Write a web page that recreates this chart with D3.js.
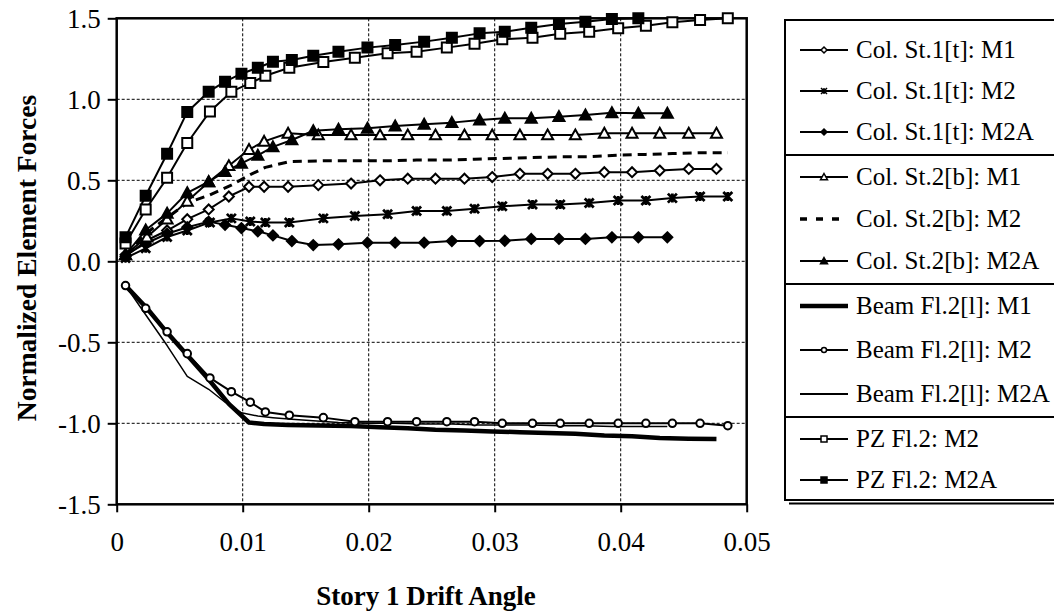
<!DOCTYPE html>
<html><head><meta charset="utf-8">
<script src="https://cdn.jsdelivr.net/npm/d3@7"></script>
<style>body{margin:0;background:#fff}svg{display:block}svg text{font-family:"Liberation Serif","Times New Roman",serif !important;fill:#000}</style>
</head><body>
<svg id="c" width="1054" height="614"></svg>
<script>
// ---------- data ----------
const xTicks = [0, 0.01, 0.02, 0.03, 0.04, 0.05];
const xTickLabels = ["0", "0.01", "0.02", "0.03", "0.04", "0.05"];
const yTicks = [-1.5, -1.0, -0.5, 0.0, 0.5, 1.0, 1.5];
const yTickLabels = ["-1.5", "-1.0", "-0.5", "0.0", "0.5", "1.0", "1.5"];

const driftM1 = [0.0007,0.0024,0.0040,0.0056,0.0073,0.0089,0.0105,0.0117,0.0136,0.0160,0.0186,0.0209,0.0231,0.0253,0.0276,0.0298,0.0320,0.0342,0.0364,0.0387,0.0409,0.0431,0.0454,0.0476];
const driftM2 = [0.0007,0.0023,0.0040,0.0056,0.0074,0.0091,0.0106,0.0118,0.0137,0.0164,0.0189,0.0215,0.0238,0.0262,0.0284,0.0306,0.0330,0.0352,0.0375,0.0398,0.0420,0.0441,0.0463,0.0485];
const driftM2A = [0.0007,0.0023,0.0040,0.0056,0.0073,0.0086,0.0099,0.0112,0.0124,0.0139,0.0156,0.0176,0.0199,0.0221,0.0244,0.0266,0.0288,0.0308,0.0329,0.0351,0.0372,0.0393,0.0414,0.0437];

const colSt1M1  = [0.03,0.13,0.19,0.26,0.32,0.40,0.46,0.46,0.46,0.47,0.48,0.50,0.51,0.51,0.51,0.52,0.54,0.54,0.54,0.55,0.55,0.56,0.57,0.57];
const colSt1M2  = [0.02,0.08,0.15,0.19,0.24,0.265,0.245,0.24,0.24,0.265,0.28,0.29,0.31,0.31,0.325,0.34,0.35,0.35,0.36,0.375,0.375,0.39,0.40,0.40];
const colSt1M2A = [0.04,0.11,0.17,0.21,0.245,0.225,0.205,0.185,0.16,0.125,0.10,0.105,0.115,0.115,0.115,0.125,0.125,0.127,0.138,0.138,0.138,0.148,0.148,0.148];
const colSt2M1  = [0.04,0.15,0.26,0.37,0.49,0.59,0.69,0.74,0.79,0.78,0.78,0.78,0.78,0.78,0.78,0.78,0.78,0.78,0.78,0.79,0.79,0.79,0.79,0.79];
const colSt2M2  = [0.04,0.17,0.27,0.36,0.41,0.47,0.535,0.58,0.615,0.62,0.62,0.62,0.625,0.625,0.63,0.635,0.64,0.645,0.645,0.655,0.66,0.665,0.67,0.67];
const colSt2M2A = [0.04,0.193,0.296,0.423,0.491,0.553,0.605,0.654,0.706,0.749,0.806,0.815,0.821,0.835,0.846,0.856,0.872,0.883,0.883,0.893,0.903,0.917,0.914,0.914];
const beamM1    = [-0.15,-0.29,-0.44,-0.58,-0.73,-0.88,-0.995,-1.005,-1.01,-1.013,-1.017,-1.025,-1.03,-1.04,-1.045,-1.05,-1.055,-1.06,-1.065,-1.075,-1.08,-1.09,-1.095,-1.097];
const beamM2    = [-0.15,-0.29,-0.435,-0.57,-0.72,-0.805,-0.87,-0.93,-0.95,-0.965,-0.99,-0.99,-0.99,-0.99,-0.99,-1.0,-1.0,-1.0,-1.0,-1.0,-1.0,-1.0,-1.0,-1.015];
const beamM2A   = [-0.15,-0.33,-0.52,-0.71,-0.79,-0.87,-0.935,-0.955,-0.965,-0.975,-0.985,-0.995,-1.0,-1.0,-1.005,-1.005,-1.01,-1.01,-1.01,-1.015,-1.015,-1.02,-1.02,-1.02];
const pzM2      = [0.11,0.32,0.515,0.73,0.925,1.047,1.10,1.145,1.195,1.23,1.257,1.284,1.294,1.319,1.343,1.37,1.38,1.405,1.417,1.438,1.454,1.475,1.49,1.50];
const pzM2A     = [0.148,0.405,0.664,0.922,1.047,1.109,1.158,1.195,1.232,1.243,1.269,1.294,1.319,1.335,1.356,1.38,1.407,1.417,1.442,1.465,1.479,1.496,1.50];

const seriesNames = ["Col. St.1[t]: M1","Col. St.1[t]: M2","Col. St.1[t]: M2A","Col. St.2[b]: M1","Col. St.2[b]: M2","Col. St.2[b]: M2A","Beam Fl.2[l]: M1","Beam Fl.2[l]: M2","Beam Fl.2[l]: M2A","PZ Fl.2: M2","PZ Fl.2: M2A"];
const seriesX = [driftM1, driftM2, driftM2A, driftM1, driftM2, driftM2A, driftM1, driftM2, driftM2A, driftM2, driftM2A];
const seriesY = [colSt1M1, colSt1M2, colSt1M2A, colSt2M1, colSt2M2, colSt2M2A, beamM1, beamM2, beamM2A, pzM2, pzM2A];
const seriesMarker = ["diamond","star","diamond","triangle","none","triangle","none","circle","none","square","square"];
const seriesFilled = [false, true, true, false, false, true, false, false, false, false, true];

// ---------- layout ----------
const FONT = "'Liberation Serif', 'Times New Roman', serif";
const L = 116.7, R = 746.7, T = 18.3, B = 504.3;
const x = d3.scaleLinear().domain([0, 0.05]).range([L, R]);
const y = d3.scaleLinear().domain([-1.5, 1.5]).range([B, T]);
const svg = d3.select("#c");

// grid
const g = svg.append("g");
g.selectAll("line.vg").data(xTicks.slice(1, -1)).join("line")
  .attr("x1", d => x(d)).attr("x2", d => x(d)).attr("y1", T).attr("y2", B)
  .attr("stroke", "#000").attr("stroke-width", 1).attr("stroke-dasharray", "3,2");
g.selectAll("line.hg").data(yTicks.slice(1, -1)).join("line")
  .attr("x1", L).attr("x2", R).attr("y1", d => y(d)).attr("y2", d => y(d))
  .attr("stroke", "#000").attr("stroke-width", 1).attr("stroke-dasharray", "3,2");

// axes
const xAxis = d3.axisBottom(x).tickValues(xTicks).tickFormat((d, i) => xTickLabels[i]).tickSize(8).tickPadding(20);
const yAxis = d3.axisLeft(y).tickValues(yTicks).tickFormat((d, i) => yTickLabels[i]).tickSize(9).tickPadding(7);
const gx = svg.append("g").attr("transform", `translate(0,${B})`).call(xAxis);
const gy = svg.append("g").attr("transform", `translate(${L},0)`).call(yAxis);
[gx, gy].forEach(a => {
  a.attr("font-family", FONT).attr("font-size", 27);
  a.select(".domain").remove();
  a.selectAll(".tick line").attr("stroke", "#000").attr("stroke-width", 2);
  a.selectAll(".tick text").style("font-family", FONT).style("font-size", "27px").attr("fill", "#000");
});
gy.selectAll(".tick text").attr("dy", "0.34em");

// frame
svg.append("rect").attr("x", L).attr("y", T).attr("width", R - L).attr("height", B - T)
  .attr("fill", "none").attr("stroke", "#000").attr("stroke-width", 2.5);

// markers
function markerPath(type, s) {
  const h = s / 2;
  if (type === "diamond") return `M0,${-h}L${h},0L0,${h}L${-h},0Z`;
  if (type === "square") return `M${-h},${-h}H${h}V${h}H${-h}Z`;
  if (type === "triangle") return `M0,${-h}L${h},${h * 0.8}L${-h},${h * 0.8}Z`;
  if (type === "circle") return d3.symbol(d3.symbolCircle, s * s * 0.55)();
  if (type === "star") return `M${-h},${-h}L${h},${h}M${-h},${h}L${h},${-h}M0,${-h}V${h}`;
  return "";
}

const line = d3.line().x(d => x(d[0])).y(d => y(d[1]));
const plot = svg.append("g");
seriesNames.forEach((name, i) => {
  const pts = seriesX[i].slice(0, seriesY[i].length).map((d, k) => [d, seriesY[i][k]]);
  const p = plot.append("path").datum(pts).attr("d", line).attr("fill", "none").attr("stroke", "#000")
    .attr("stroke-linejoin", "round");
  if (i === 4) p.attr("stroke-width", 3).attr("stroke-dasharray", "9,6");
  else if (i === 6) p.attr("stroke-width", 4.5);
  else if (i === 8) p.attr("stroke-width", 1.5);
  else p.attr("stroke-width", 2);
});
seriesNames.forEach((name, i) => {
  const type = seriesMarker[i];
  if (type === "none") return;
  const pts = seriesX[i].slice(0, seriesY[i].length).map((d, k) => [d, seriesY[i][k]]);
  const size = type === "triangle" ? 11 : (type === "circle" ? 9 : (type === "star" ? 9 : 10));
  plot.append("g").selectAll("path").data(pts).join("path")
    .attr("transform", d => `translate(${x(d[0])},${y(d[1])})`)
    .attr("d", markerPath(type, size))
    .attr("fill", seriesFilled[i] ? "#000" : "#fff")
    .attr("stroke", "#000").attr("stroke-width", type === "star" ? 2.8 : 2);
});

// axis titles
svg.append("text").attr("x", 426).attr("y", 605).attr("text-anchor", "middle")
  .style("font-family", FONT).style("font-size", "27px").attr("font-weight", "bold").text("Story 1 Drift Angle");
svg.append("text").attr("transform", "translate(36,258) rotate(-90)").attr("text-anchor", "middle")
  .style("font-family", FONT).style("font-size", "27.5px").attr("font-weight", "bold").text("Normalized Element Forces");

// legend
const LX = 785, LT = 20, LB = 500;
const lg = svg.append("g");
lg.append("line").attr("x1", LX + 4).attr("x2", 1060).attr("y1", LB + 3.5).attr("y2", LB + 3.5).attr("stroke", "#000").attr("stroke-width", 2);
lg.append("rect").attr("x", LX).attr("y", LT).attr("width", 1060 - LX).attr("height", LB - LT)
  .attr("fill", "#fff").attr("stroke", "#000").attr("stroke-width", 2);
const dividers = [155, 284, 417];
lg.selectAll("line.div").data(dividers).join("line")
  .attr("x1", LX).attr("x2", 1060).attr("y1", d => d).attr("y2", d => d).attr("stroke", "#000").attr("stroke-width", 2);
const rowY = [50, 91, 132, 177, 219, 261, 306, 350, 394, 439, 480];
seriesNames.forEach((name, i) => {
  const ry = rowY[i];
  const ln = lg.append("line").attr("x1", 800).attr("x2", 848).attr("y1", ry).attr("y2", ry).attr("stroke", "#000");
  if (i === 4) ln.attr("stroke-width", 3.5).attr("stroke-dasharray", "7,9");
  else if (i === 6) ln.attr("stroke-width", 4.5);
  else ln.attr("stroke-width", 2);
  const type = seriesMarker[i];
  if (type !== "none") {
    const size = type === "triangle" ? 7 : 6;
    lg.append("path").attr("transform", `translate(824,${ry})`).attr("d", markerPath(type, size))
      .attr("fill", seriesFilled[i] ? "#000" : "#fff").attr("stroke", "#000").attr("stroke-width", 1.5);
  }
  lg.append("text").attr("x", 856).attr("y", ry + 8).style("font-family", FONT).style("font-size", "25px").text(name);
});
</script>
</body></html>
